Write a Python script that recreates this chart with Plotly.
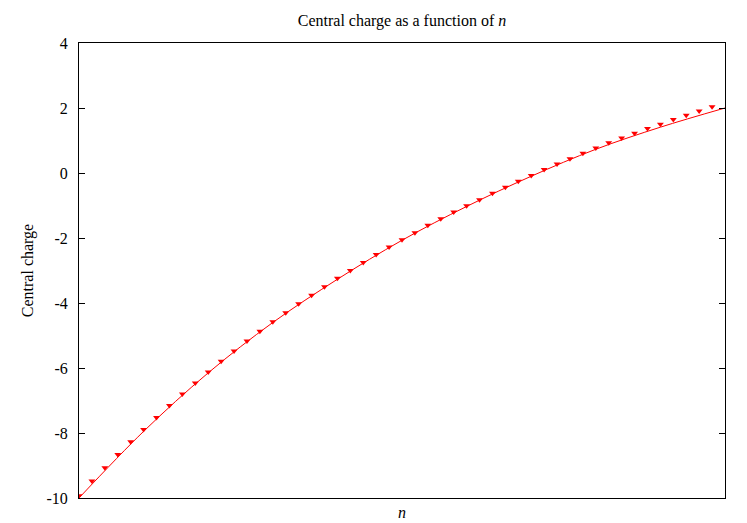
import plotly.graph_objects as go

n_points = list(range(50))
c_points = [-9.93, -9.48, -9.07, -8.66, -8.27, -7.89, -7.52, -7.15, -6.80, -6.46,
            -6.12, -5.79, -5.48, -5.17, -4.87, -4.58, -4.30, -4.02, -3.76, -3.50,
            -3.24, -3.00, -2.75, -2.51, -2.28, -2.05, -1.84, -1.61, -1.41, -1.20,
            -1.01, -0.82, -0.62, -0.44, -0.25, -0.08, 0.11, 0.28, 0.44, 0.61,
            0.77, 0.93, 1.08, 1.22, 1.37, 1.50, 1.65, 1.78, 1.91, 2.04]

n_fit = [0, 5, 10, 15, 20, 25, 30, 35, 40, 45, 50]
c_fit = [-10.0, -7.95, -6.15, -4.60, -3.27, -2.07, -1.03, -0.10, 0.73, 1.41, 2.0]

y_ticks = [-10, -8, -6, -4, -2, 0, 2, 4]

FONT = "Liberation Serif"
RED = "#ff0000"
PAGE_OFFSET = 8  # default body margin of the html page
W, H = 747 - PAGE_OFFSET, 523 - PAGE_OFFSET

fig = go.Figure()
fig.add_trace(go.Scatter(x=n_fit, y=c_fit, mode="lines",
                         line=dict(color=RED, width=1, shape="spline"),
                         showlegend=False, hoverinfo="skip"))
fig.add_trace(go.Scatter(x=n_points, y=c_points, mode="markers",
                         marker=dict(symbol="triangle-down", size=6, color=RED,
                                     line=dict(width=0)),
                         showlegend=False))

fig.update_layout(
    width=W, height=H,
    paper_bgcolor="white", plot_bgcolor="white",
    margin=dict(l=79 - PAGE_OFFSET, r=22, t=43 - PAGE_OFFSET, b=25, autoexpand=False),
    font=dict(family=FONT, size=16, color="black"),
    title=dict(text="Central charge as a function of <i>n</i>",
               x=0.5, xref="paper", xanchor="center",
               y=1 - (20 - PAGE_OFFSET) / H, yanchor="middle",
               font=dict(family=FONT, size=16)),
    xaxis=dict(range=[0, 50], showticklabels=False, ticks="",
               showline=True, linecolor="black", linewidth=1, mirror=True,
               showgrid=False, zeroline=False, automargin=False,
               title=dict(text="<i>n</i>", standoff=8,
                          font=dict(family=FONT, size=16))),
    yaxis=dict(range=[-10, 4], tickvals=y_ticks, ticktext=[str(v) for v in y_ticks],
               ticks="inside", ticklen=6, tickcolor="black", tickwidth=1,
               showline=True, linecolor="black", linewidth=1, mirror="allticks",
               showgrid=False, zeroline=False, automargin=False,
               ticklabelstandoff=7,
               title=dict(text="Central charge", standoff=8,
                          font=dict(family=FONT, size=16))),
)

fig.write_html("out.html")
